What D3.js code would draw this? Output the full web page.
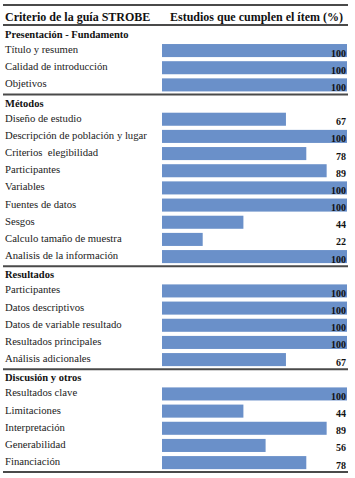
<!DOCTYPE html>
<html>
<head>
<meta charset="utf-8">
<script src="https://cdn.jsdelivr.net/npm/d3@7"></script>
<style>
  body { margin: 0; background: #fff; }
  text { font-family: "Liberation Serif", "Times New Roman", serif; white-space: pre; }
</style>
</head>
<body>
<div id="chart"></div>
<script>
var headers = ["Criterio de la guía STROBE", "Estudios que cumplen el ítem (%)"];

var sections = ["Presentación - Fundamento", "Métodos", "Resultados", "Discusión y otros"];

var items = [
  ["Título y resumen", "Calidad de introducción", "Objetivos"],
  ["Diseño de estudio", "Descripción de población y lugar", "Criterios  elegibilidad",
   "Participantes", "Variables", "Fuentes de datos", "Sesgos",
   "Calculo tamaño de muestra", "Analisis de la información"],
  ["Participantes", "Datos descriptivos", "Datos de variable resultado",
   "Resultados principales", "Análisis adicionales"],
  ["Resultados clave", "Limitaciones", "Interpretación", "Generabilidad", "Financiación"]
];

var values = [
  [100, 100, 100],
  [67, 100, 78, 89, 100, 100, 44, 22, 100],
  [100, 100, 100, 100, 67],
  [100, 44, 89, 56, 78]
];

var width = 355, height = 478;

var svg = d3.select("#chart")
    .append("svg")
    .attr("width", width)
    .attr("height", height);

// flatten into rows: one section row followed by its items
var rows = [];
sections.forEach(function(s, si) {
  rows.push({type: "section", label: s});
  items[si].forEach(function(name, j) {
    rows.push({type: "item", label: name, value: values[si][j]});
  });
});
rows.forEach(function(d, i) { d.i = i; });

var y = d3.scaleBand()
    .domain(rows.map(function(d) { return d.i; }))
    .range([24.8, 471.2])
    .paddingInner(0.24)
    .paddingOuter(0.12);

var x = d3.scaleLinear().domain([0, 100]).range([162, 347]);

var ruleColor = "#4a4a4a";

// horizontal rules
var ruleYs = [5, 25];
rows.forEach(function(d) {
  if (d.type === "section" && d.i > 0) ruleYs.push(y(d.i) - 1);
});
ruleYs.push(472);

svg.selectAll(".rule")
  .data(ruleYs)
  .enter().append("line")
    .attr("x1", 3)
    .attr("x2", 348)
    .attr("y1", function(d) { return d; })
    .attr("y2", function(d) { return d; })
    .attr("stroke", ruleColor)
    .attr("stroke-width", 2);

// header
svg.append("text")
  .attr("x", 5).attr("y", 21)
  .attr("font-size", 12).attr("font-weight", "bold").attr("fill", "#111")
  .text(headers[0]);
svg.append("text")
  .attr("x", 170).attr("y", 21)
  .attr("font-size", 12).attr("font-weight", "bold").attr("fill", "#111")
  .text(headers[1]);

// section labels
svg.selectAll(".sec")
  .data(rows.filter(function(d) { return d.type === "section"; }))
  .enter().append("text")
    .attr("x", 5)
    .attr("y", function(d) { return y(d.i) + 11; })
    .attr("font-size", 10.5)
    .attr("font-weight", "bold")
    .attr("fill", "#111")
    .text(function(d) { return d.label; });

var itemRows = rows.filter(function(d) { return d.type === "item"; });

// item labels
svg.selectAll(".lab")
  .data(itemRows)
  .enter().append("text")
    .attr("x", 5)
    .attr("y", function(d) { return y(d.i) + 9; })
    .attr("font-size", 10.7)
    .attr("fill", "#222")
    .text(function(d) { return d.label; });

// bars
svg.selectAll(".bar")
  .data(itemRows)
  .enter().append("rect")
    .attr("x", x(0))
    .attr("y", function(d) { return y(d.i); })
    .attr("width", function(d) { return x(d.value) - x(0); })
    .attr("height", y.bandwidth())
    .attr("fill", "#6a90c9");

// values
svg.selectAll(".val")
  .data(itemRows)
  .enter().append("text")
    .attr("x", 346)
    .attr("y", function(d) { return y(d.i) + y.bandwidth() - 0.5; })
    .attr("text-anchor", "end")
    .attr("font-size", 10)
    .attr("font-weight", "bold")
    .attr("fill", "#111")
    .text(function(d) { return d.value; });
</script>
</body>
</html>
